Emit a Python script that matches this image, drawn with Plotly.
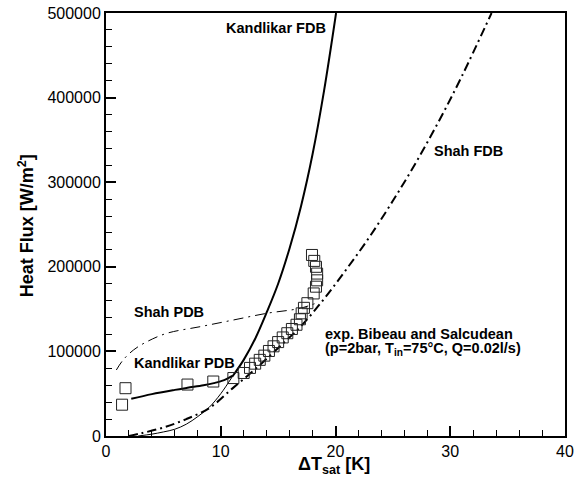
import plotly.graph_objects as go

# ---- data ----
exp_x = [1.4, 1.7, 7.1, 9.35, 11.1, 12.0, 12.55, 13.0, 13.4, 13.8, 14.2, 14.6, 15.0, 15.4,
         15.8, 16.2, 16.6, 16.9, 17.05, 17.25, 17.55, 18.1, 18.3, 18.4, 18.4, 18.3, 18.15, 17.95]
exp_q = [37000, 56500, 60800, 64400, 68500, 74500, 80500, 85500, 90000, 95000, 100500, 106000,
         111000, 116500, 121500, 126500, 131500, 138000, 145000, 151500, 157000, 168500, 176500,
         184000, 192000, 200000, 207000, 214000]

kand_pdb_x = [2.2, 4.0, 6.0, 7.1, 8.5, 9.4, 10.3, 11.0]
kand_pdb_q = [44000, 49500, 54500, 57000, 60000, 62500, 66000, 71000]

kand_fdb_low_x = [2.8, 4, 5, 6, 7, 8, 9, 10, 11]
kand_fdb_low_q = [0, 2200, 4800, 8000, 14000, 23000, 34000, 50000, 70000]
kand_fdb_x = [11, 12, 13, 14, 15, 16, 17, 18, 19, 20.05]
kand_fdb_q = [70000, 90000, 115000, 146000, 180000, 222000, 272000, 333000, 408000, 500000]

shah_pdb_x = [0.9, 1.5, 2.4, 3.5, 5.3, 8.2, 11.1, 14.0, 16.9, 18.5]
shah_pdb_q = [78000, 90000, 101700, 111000, 121400, 129200, 137100, 145000, 150900, 158000]

shah_fdb_x = [2.0, 3, 5, 7, 9, 11, 13, 15, 17, 19, 21, 23, 25, 27, 29, 31, 33.6]
shah_fdb_q = [0, 3000, 10000, 20000, 33000, 56000, 79000, 104000, 130000, 162000, 198000,
              236000, 278000, 323000, 372000, 425000, 500000]

x_ticks = [0, 10, 20, 30, 40]
y_ticks = [0, 100000, 200000, 300000, 400000, 500000]

FONT = "Liberation Sans, Arial, sans-serif"

fig = go.Figure()
fig.add_trace(go.Scatter(x=shah_pdb_x, y=shah_pdb_q, mode="lines",
                         line=dict(color="black", width=1, dash="10px,5px,2px,5px", shape="spline")))
fig.add_trace(go.Scatter(x=shah_fdb_x, y=shah_fdb_q, mode="lines",
                         line=dict(color="black", width=2, dash="9px,4px,2px,4px", shape="spline")))
fig.add_trace(go.Scatter(x=kand_fdb_low_x, y=kand_fdb_low_q, mode="lines",
                         line=dict(color="black", width=1, shape="spline")))
fig.add_trace(go.Scatter(x=kand_fdb_x, y=kand_fdb_q, mode="lines",
                         line=dict(color="black", width=2, shape="spline")))
fig.add_trace(go.Scatter(x=kand_pdb_x, y=kand_pdb_q, mode="lines",
                         line=dict(color="black", width=2, shape="spline")))
fig.add_trace(go.Scatter(x=exp_x, y=exp_q, mode="markers",
                         marker=dict(symbol="square-open", size=11, color="#222",
                                     line=dict(width=1, color="#222"))))

axis_common = dict(showgrid=False, zeroline=False, showline=True, linecolor="black", linewidth=2,
                   mirror=True, ticks="inside", ticklen=10, tickwidth=2, tickcolor="black",
                   automargin=False, ticklabeloverflow="allow",
                   tickfont=dict(family=FONT, size=16, color="black"))

fig.update_xaxes(range=[0, 40], tickvals=x_ticks, ticktext=[str(v) for v in x_ticks],
                 minor=dict(dtick=2, tick0=0, ticks="inside", ticklen=6, tickwidth=1, tickcolor="black"),
                 **axis_common)
fig.update_yaxes(range=[0, 500000], tickvals=y_ticks, ticktext=[str(v) for v in y_ticks],
                 minor=dict(dtick=20000, tick0=0, ticks="inside", ticklen=6, tickwidth=1, tickcolor="black"),
                 **axis_common)

bold = dict(family=FONT, size=14.5, color="black")
ann = [
    dict(x=19.35, y=482000, text="<b>Kandlikar FDB</b>", xanchor="right", yanchor="middle"),
    dict(x=28.4, y=337000, text="<b>Shah FDB</b>", xanchor="left", yanchor="middle"),
    dict(x=2.24, y=146600, text="<b>Shah PDB</b>", xanchor="left", yanchor="middle"),
    dict(x=2.24, y=86300, text="<b>Kandlikar PDB</b>", xanchor="left", yanchor="middle"),
    dict(x=18.9, y=120600, text="<b>exp. Bibeau and Salcudean</b>", xanchor="left", yanchor="middle"),
    dict(x=18.9, y=103000, text="<b>(p=2bar, T<sub>in</sub>=75°C, Q=0.02l/s)</b>",
         xanchor="left", yanchor="middle"),
]
for a in ann:
    fig.add_annotation(xref="x", yref="y", showarrow=False, font=bold, **a)

fig.add_annotation(xref="paper", yref="paper", x=-0.174, y=0.496, textangle=-90,
                   text="<b>Heat Flux [W/m<sup>2</sup>]</b>", showarrow=False,
                   font=dict(family=FONT, size=18, color="black"), xanchor="center", yanchor="middle")
fig.add_annotation(xref="paper", yref="paper", x=0.497, y=-0.0686,
                   text="<b>ΔT<sub>sat</sub> [K]</b>", showarrow=False,
                   font=dict(family=FONT, size=18, color="black"), xanchor="center", yanchor="middle")

fig.update_layout(width=583, height=480, showlegend=False,
                  margin=dict(l=106, r=18, t=13, b=44),
                  plot_bgcolor="white", paper_bgcolor="white")

# remove the default page margin so the 583x480 figure fills the window exactly
fig.write_html("out.html", config={"displayModeBar": False},
               post_script="document.body.style.margin='0';document.body.style.overflow='hidden';")
